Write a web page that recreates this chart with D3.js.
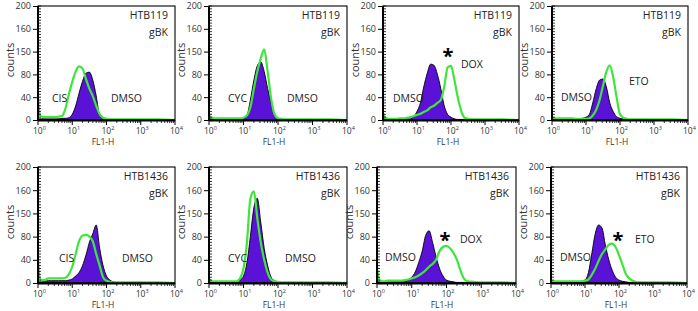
<!DOCTYPE html>
<html><head><meta charset="utf-8">
<script src="https://cdn.jsdelivr.net/npm/d3@7"></script>
<style>body{margin:0;background:#fff} svg{display:block} text{font-family:"Open Sans",sans-serif}</style>
</head><body><svg id="c" width="698" height="311"></svg>
<script>
// FL1-H channel positions (shared histogram bins)
const fl1 = [1, 1.12, 1.26, 1.58, 2.0, 2.51, 3.16, 3.98, 5.01, 6.31, 7.94, 10, 12.6, 15.8, 20.0, 25.1, 31.6, 39.8, 50.1, 63.1, 79.4, 100, 126, 158, 200, 251, 316, 398, 600, 1000, 3160, 10000];

const yTicks = [0, 40, 80, 120, 160, 200];
const yTickLabels = ["0", "40", "80", "150", "160", "200"];
const xDecades = [1, 10, 100, 1000, 10000];
const xDecadeExp = ["0", "1", "2", "3", "4"];

const cellLines = ["HTB119", "HTB119", "HTB119", "HTB119", "HTB1436", "HTB1436", "HTB1436", "HTB1436"];
const treatments = ["CIS", "CYC", "DOX", "ETO", "CIS", "CYC", "DOX", "ETO"];
const significant = [false, false, true, false, false, false, true, true];

// counts, DMSO control (purple) and treatment (green)
const dmso119CIS = [3,2,2,2,2,2,2,2,3,3,4,10,25,47,68,82,84,70,42,8,3,2,1,1,1,1,1,1,1,1,0,0];
const cis119     = [35,10,6,5,5,5,5,6,7,20,45,67,85,94,90,72,55,42,25,10,4,2,1,1,1,1,1,1,1,1,1,0];
const dmso119CYC = [2,2,2,2,2,2,2,2,2,2,2,3,8,35,70,95,102,85,55,30,10,3,2,1,1,1,1,1,1,1,0,0];
const cyc119     = [9,5,4,3,3,3,3,3,3,3,3,4,8,22,55,85,108,124,85,38,10,3,2,1,1,1,1,1,1,1,1,0];
const dmso119DOX = [2,2,2,2,2,2,2,2,2,2,6,15,30,58,82,98,96,80,55,25,10,5,2,1,1,1,1,1,1,0,0,0];
const dox119     = [12,5,3,2,2,2,3,3,4,5,7,9,11,14,17,22,25,30,35,58,92,95,70,40,16,4,2,1,1,1,1,0];
const dmso119ETO = [2,2,2,2,2,2,2,2,2,2,3,5,10,30,55,70,72,58,30,15,6,3,2,1,1,1,1,1,1,0,0,0];
const eto119     = [4,3,3,3,3,3,3,3,2,2,2,2,3,8,18,35,60,85,96,75,40,10,4,2,1,1,1,1,1,1,1,0];
const dmso1436CIS = [2,2,2,3,4,4,4,4,4,4,5,7,12,18,30,48,70,85,100,60,30,12,5,2,1,1,1,1,1,1,0,0];
const cis1436     = [40,8,5,5,8,8,8,8,8,9,15,28,50,72,82,83,80,72,50,30,10,4,2,1,1,1,1,1,1,1,1,0];
const dmso1436CYC = [2,2,2,2,2,2,2,2,2,2,5,12,35,80,130,146,105,60,30,10,4,2,1,1,1,1,1,1,1,0,0,0];
const cyc1436     = [8,4,3,3,3,3,3,3,3,3,8,25,70,145,158,112,70,40,18,6,3,2,1,1,1,1,1,1,1,1,1,0];
const dmso1436DOX = [2,2,2,2,2,2,3,3,3,3,5,10,19,35,55,82,90,70,45,25,12,5,3,2,1,1,1,1,1,0,0,0];
const dox1436     = [26,8,4,3,4,4,4,4,4,5,6,8,10,13,17,22,28,33,40,55,62,64,60,52,40,22,8,3,2,1,1,0];
const dmso1436ETO = [2,2,2,2,2,2,2,2,2,2,3,5,18,50,85,100,95,65,40,22,10,5,3,2,1,1,1,1,1,0,0,0];
const eto1436     = [4,3,3,3,3,3,3,3,3,3,3,4,6,14,25,38,50,58,66,68,62,48,32,16,8,4,2,1,1,1,1,0];

const controlSeries = [dmso119CIS, dmso119CYC, dmso119DOX, dmso119ETO, dmso1436CIS, dmso1436CYC, dmso1436DOX, dmso1436ETO];
const treatedSeries = [cis119, cyc119, dox119, eto119, cis1436, cyc1436, dox1436, eto1436];

// ---- layout (pixels) ----
const boxes = [
  {x:38, y:6, w:137, h:114}, {x:209, y:6, w:138, h:114}, {x:383, y:6, w:136, h:114}, {x:552, y:6, w:136, h:114},
  {x:38, y:167, w:137, h:116}, {x:209, y:167, w:138, h:116}, {x:377, y:167, w:139, h:116}, {x:551, y:167, w:136, h:116}
];
const labelPos = [
  {t:[14,96], d:[73,96]},
  {t:[19,96], d:[78,96]},
  {t:[78,62], d:[10,96], s:[65,48]},
  {t:[77,79], d:[9,95]},
  {t:[21,95], d:[84,95]},
  {t:[19,95], d:[76,95]},
  {t:[83,76], d:[8,94], s:[68,71]},
  {t:[84,76], d:[9,94], s:[67,71]}
];

const svg = d3.select("#c");
const purple = "#5a12d6", green = "#3ee63a";

boxes.forEach((b, i) => {
  const g = svg.append("g");
  const x = d3.scaleLog().domain([1, 10000]).range([b.x, b.x + b.w]);
  const y = d3.scaleLinear().domain([0, 200]).range([b.y + b.h, b.y]);
  const cid = "clip" + i;
  svg.append("clipPath").attr("id", cid).append("rect")
    .attr("x", b.x).attr("y", b.y).attr("width", b.w).attr("height", b.h);

  const ctrl = fl1.map((v, k) => [v, controlSeries[i][k]]);
  const trt = fl1.map((v, k) => [v, treatedSeries[i][k]]);

  g.append("path").datum(ctrl).attr("clip-path", `url(#${cid})`)
    .attr("d", d3.area().x(d => x(d[0])).y0(y(0)).y1(d => y(d[1])).curve(d3.curveMonotoneX))
    .attr("fill", purple).attr("stroke", "#000").attr("stroke-width", 0.9);
  g.append("path").datum(trt).attr("clip-path", `url(#${cid})`)
    .attr("d", d3.line().x(d => x(d[0])).y(d => y(d[1])).curve(d3.curveMonotoneX))
    .attr("fill", "none").attr("stroke", green).attr("stroke-width", 2.2);

  // frame
  g.append("rect").attr("x", b.x).attr("y", b.y).attr("width", b.w).attr("height", b.h)
    .attr("fill", "none").attr("stroke", "#000").attr("stroke-width", 1.1);
  g.append("line").attr("x1", b.x).attr("x2", b.x).attr("y1", b.y).attr("y2", b.y + b.h + 1)
    .attr("stroke", "#000").attr("stroke-width", 2);
  g.append("line").attr("x1", b.x).attr("x2", b.x + b.w).attr("y1", b.y + b.h + 0.5).attr("y2", b.y + b.h + 0.5)
    .attr("stroke", "#000").attr("stroke-width", 2);

  // y axis
  const ya = g.append("g").attr("transform", `translate(${b.x},0)`)
    .call(d3.axisLeft(y).tickValues(yTicks).tickFormat((d, k) => yTickLabels[k]).tickSize(5).tickPadding(2));
  ya.select(".domain").remove();
  ya.selectAll("text").attr("font-size", 9).attr("fill", "#333").attr("font-family", "'Open Sans',sans-serif");
  ya.selectAll("line").attr("stroke", "#000");
  const yMinor = d3.range(0, 201, 5);
  g.selectAll(null).data(yMinor).enter().append("line")
    .attr("x1", b.x).attr("x2", b.x + 3).attr("y1", d => y(d)).attr("y2", d => y(d))
    .attr("stroke", "#000").attr("stroke-width", 0.8);

  // x axis
  const xMinor = [];
  [1, 10, 100, 1000].forEach(dec => { for (let m = 2; m <= 9; m++) xMinor.push(dec * m); });
  g.selectAll(null).data(xMinor).enter().append("line")
    .attr("x1", d => x(d)).attr("x2", d => x(d)).attr("y1", b.y + b.h).attr("y2", b.y + b.h + 3)
    .attr("stroke", "#000").attr("stroke-width", 0.8);
  g.selectAll(null).data(xDecades).enter().append("line")
    .attr("x1", d => x(d)).attr("x2", d => x(d)).attr("y1", b.y + b.h).attr("y2", b.y + b.h + 5)
    .attr("stroke", "#000").attr("stroke-width", 1);
  xDecades.forEach((d, k) => {
    const t = g.append("text").attr("x", x(d) - 5).attr("y", b.y + b.h + 14)
      .attr("font-size", 8.5).attr("fill", "#333").text("10");
    t.append("tspan").attr("dy", -4).attr("font-size", 5.5).text(xDecadeExp[k]);
  });
  g.append("text").attr("x", b.x + 65).attr("y", b.y + b.h + 25).attr("text-anchor", "middle")
    .attr("font-size", 8.5).attr("fill", "#333").text("FL1-H");
  g.append("text").attr("transform", `translate(${b.x - 24},${b.y + b.h / 2 - 3}) rotate(-90)`)
    .attr("text-anchor", "middle").attr("font-size", 11).attr("fill", "#333").text("counts");

  // annotations
  g.append("text").attr("x", b.x + b.w - 7).attr("y", b.y + 12.5).attr("text-anchor", "end")
    .attr("font-size", 10.5).attr("fill", "#222").text(cellLines[i]);
  g.append("text").attr("x", b.x + b.w - 7).attr("y", b.y + 29.5).attr("text-anchor", "end")
    .attr("font-size", 10.5).attr("fill", "#222").text("gBK");
  const lp = labelPos[i];
  g.append("text").attr("x", b.x + lp.t[0]).attr("y", b.y + lp.t[1])
    .attr("font-size", 10.5).attr("fill", "#222").text(treatments[i]);
  g.append("text").attr("x", b.x + lp.d[0]).attr("y", b.y + lp.d[1])
    .attr("font-size", 10.5).attr("fill", "#222").text("DMSO");
  if (significant[i]) {
    g.append("text").attr("x", b.x + lp.s[0]).attr("y", b.y + lp.s[1] + 9).attr("text-anchor", "middle")
      .attr("font-size", 20).attr("font-weight", "bold").attr("fill", "#000").text("*");
  }
});
</script></body></html>
